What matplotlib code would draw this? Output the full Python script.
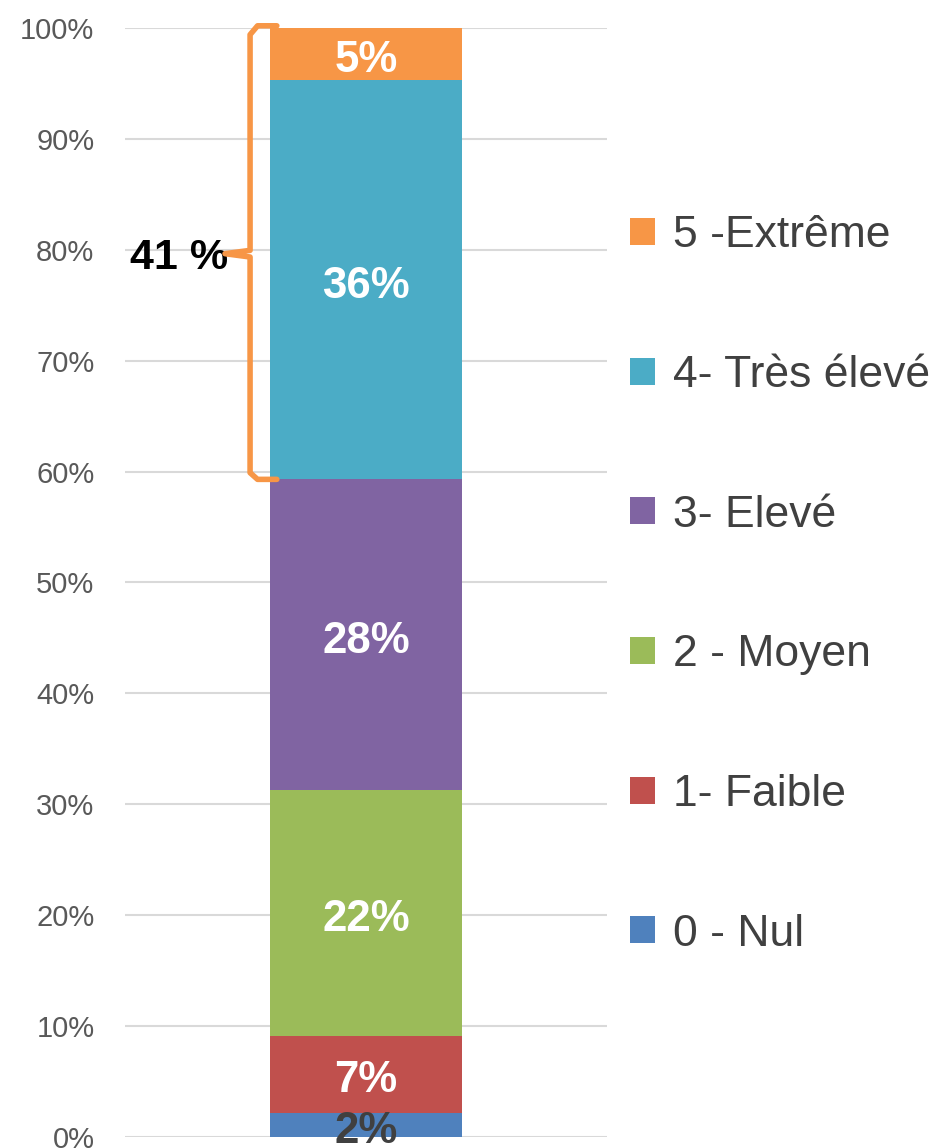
import matplotlib.pyplot as plt
from matplotlib.patches import Patch

categories = ['0 - Nul', '1- Faible', '2 - Moyen', '3- Elevé', '4- Très élevé', '5 -Extrême']
values = [2.2, 6.9, 22.2, 28.0, 36.0, 4.7]
labels = ['2%', '7%', '22%', '28%', '36%', '5%']
colors = ['#4F81BD', '#C0504D', '#9BBB59', '#8064A2', '#4BACC6', '#F79646']
label_colors = ['#404040', 'white', 'white', 'white', 'white', 'white']
bracket_text = '41 %'

plt.rcParams['font.family'] = ['Liberation Sans', 'DejaVu Sans']

fig = plt.figure(figsize=(9.37, 11.48), dpi=100)
ax = fig.add_axes([0.1334, 0.0096, 0.5144, 0.966])

bottom = 0
for v, c, lab, lc in zip(values, colors, labels, label_colors):
    ax.bar(0, v, width=0.8, bottom=bottom, color=c, zorder=3)
    ax.text(0, bottom + v / 2 - 0.6, lab, ha='center', va='center', color=lc,
            fontsize=31.5, fontweight='bold', zorder=4, clip_on=False)
    bottom += v

ax.set_xlim(-1, 1)
ax.set_ylim(0, 100)
ax.set_yticks(range(0, 101, 10))
ax.set_yticklabels([f'{t}%' for t in range(0, 101, 10)], fontsize=21, color='#595959')
ax.set_xticks([])
ax.tick_params(axis='y', length=0, pad=22)
ax.grid(axis='y', color='#D9D9D9', linewidth=1.5, zorder=0)
for s in ax.spines.values():
    s.set_visible(False)

# bracket over the top two categories
lo = sum(values[:4])
hi = 100
mid = (lo + hi) / 2
bx = -0.481
ax.plot([-0.37, -0.45, bx, bx, -0.585, bx, bx, -0.45, -0.37],
        [hi + 0.2, hi + 0.2, hi - 0.6, mid + 0.3, mid, mid - 0.3, lo + 0.6, lo, lo],
        color='#F79646', linewidth=4, solid_joinstyle='round', solid_capstyle='round',
        zorder=5, clip_on=False)
ax.text(-0.573, mid - 0.4, bracket_text, ha='right', va='center', fontsize=31,
        fontweight='bold', color='black')

handles = [Patch(facecolor=c) for c in colors][::-1]
fig.legend(handles, categories[::-1], loc='center left', bbox_to_anchor=(0.649, 0.4905),
           frameon=False, fontsize=32, labelcolor='#404040', handlelength=0.56,
           handleheight=0.56, handletextpad=0.4, labelspacing=2.22, borderpad=0)

fig.savefig('out.png', dpi=100)
